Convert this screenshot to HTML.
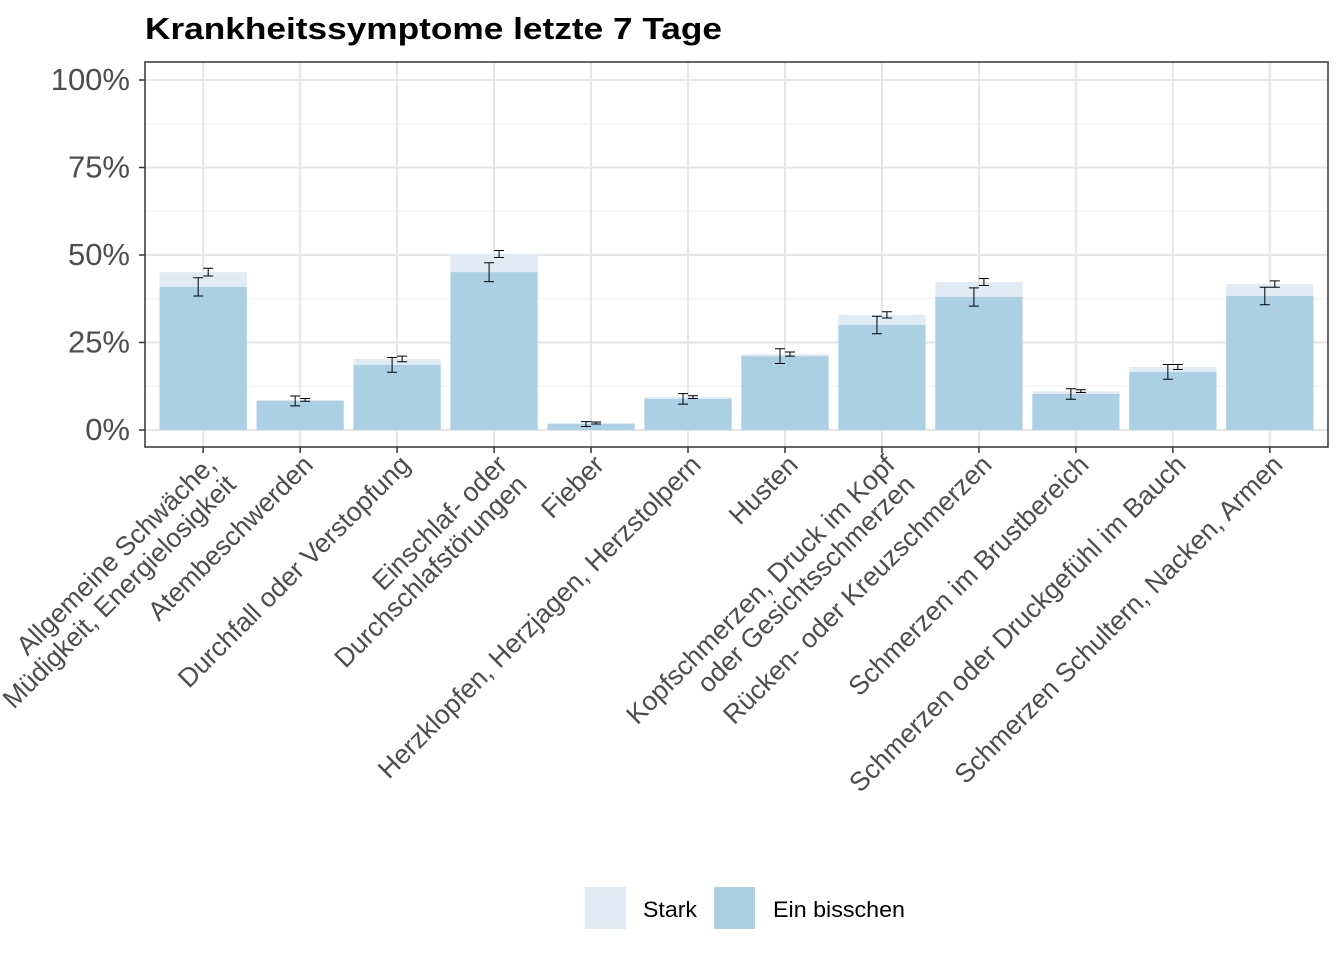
<!DOCTYPE html>
<html><head><meta charset="utf-8"><style>
body{margin:0;background:#fff;}
svg{display:block;font-family:"Liberation Sans",Arial,sans-serif;}
</style></head><body>
<svg id="chart" width="1344" height="960">
<text x="145" y="39" font-size="31" font-weight="bold" fill="#000" textLength="577" lengthAdjust="spacingAndGlyphs">Krankheitssymptome letzte 7 Tage</text>
<g id="grid"></g><g id="bars"></g><g id="errs"></g><g id="axes"></g>
<g>
<rect x="585" y="887" width="41" height="42" fill="#e1ebf5"/>
<text x="643" y="917" font-size="22" fill="#000" textLength="54" lengthAdjust="spacingAndGlyphs">Stark</text>
<rect x="714" y="887" width="41" height="42" fill="#abd0e3"/>
<text x="773" y="917" font-size="22" fill="#000" textLength="132" lengthAdjust="spacingAndGlyphs">Ein bisschen</text>
</g>
</svg>
<script>
const categories=[["Allgemeine Schwäche,","Müdigkeit, Energielosigkeit"],["Atembeschwerden"],["Durchfall oder Verstopfung"],["Einschlaf- oder","Durchschlafstörungen"],["Fieber"],["Herzklopfen, Herzjagen, Herzstolpern"],["Husten"],["Kopfschmerzen, Druck im Kopf","oder Gesichtsschmerzen"],["Rücken- oder Kreuzschmerzen"],["Schmerzen im Brustbereich"],["Schmerzen oder Druckgefühl im Bauch"],["Schmerzen Schultern, Nacken, Armen"]];
const einBisschen=[40.9,8.3,18.6,45.1,1.7,8.9,21.1,30.0,38.0,10.3,16.6,38.3];
const totalValues=[45.1,8.6,20.3,50.3,2.0,9.4,21.7,32.9,42.3,11.1,18.0,41.7];
const errEin=[2.6,1.4,2.1,2.7,0.7,1.5,2.1,2.5,2.6,1.5,2.1,2.5];
const errTotal=[1.1,0.4,0.8,1.0,0.3,0.4,0.6,0.9,1.0,0.4,0.7,0.9];
const yTicks=[0,25,50,75,100];
const yTickLabels=["0%","25%","50%","75%","100%"];
const NS="http://www.w3.org/2000/svg";
const L=145,R=1328,T=62,B=447;
const y=v=>430-v*3.5;
const band=(R-L)/(categories.length+0.2);
const x=i=>L+band*(0.6+i);
function mk(tag,attrs,parent){const e=document.createElementNS(NS,tag);for(const k in attrs)e.setAttribute(k,attrs[k]);parent.appendChild(e);return e;}
const grid=document.getElementById('grid'),bars=document.getElementById('bars'),errs=document.getElementById('errs'),axes=document.getElementById('axes');
for(let k=0;k<yTicks.length-1;k++){const m=(yTicks[k]+yTicks[k+1])/2;
 const g=mk('line',{x1:L,x2:R,y1:y(m),y2:y(m),stroke:'#f2f2f2','stroke-width':1},grid);
 
 }
yTicks.forEach((t,k)=>{
 const g=mk('line',{x1:L,x2:R,y1:y(t),y2:y(t),stroke:'#e6e6e6','stroke-width':2},grid);
 
 
 const tk=mk('line',{x1:L-6,x2:L,y1:y(t),y2:y(t),stroke:'#333','stroke-width':1.5},axes);
 
 
 const tl=mk('text',{x:L-15,y:y(t)+10,'font-size':31,fill:'#4d4d4d','text-anchor':'end'},axes);
 tl.textContent=yTickLabels[k];
 
 
});
categories.forEach((c,i)=>{
 const cx=x(i),bw=band*0.9;
 const g=mk('line',{x1:cx,x2:cx,y1:T,y2:B,stroke:'#e6e6e6','stroke-width':2},grid);
 
 
 const s=mk('rect',{x:cx-bw/2,y:y(totalValues[i]),width:bw,height:y(einBisschen[i])-y(totalValues[i]),fill:'#e1ebf5'},bars);
 
 
 const e=mk('rect',{x:cx-bw/2,y:y(einBisschen[i]),width:bw,height:y(0)-y(einBisschen[i]),fill:'#abd0e3'},bars);
 
 
 [[cx-5,einBisschen[i],errEin[i]],[cx+5,totalValues[i],errTotal[i]]].forEach(([ex,v,er])=>{
  const p=mk('path',{d:`M${ex-5},${y(v+er)}H${ex+5}M${ex},${y(v+er)}V${y(v-er)}M${ex-5},${y(v-er)}H${ex+5}`,stroke:'#000','stroke-width':1,fill:'none'},errs);
  
  
 });
 const tk=mk('line',{x1:cx,x2:cx,y1:B,y2:B+6,stroke:'#333','stroke-width':1.5},axes);
 
 
 const t=mk('text',{transform:`translate(${cx+1},${B+6}) rotate(-45)`,'font-size':26.6,fill:'#4d4d4d','text-anchor':'end'},axes);
 
 
 c.forEach((line,j)=>{const ts=mk('tspan',{x:0,y:19+j*28},t);ts.textContent=line;});
});
const fr=mk('rect',{x:L,y:T,width:R-L,height:B-T,fill:'none',stroke:'#333','stroke-width':1.5},axes);


</script>
</body></html>
